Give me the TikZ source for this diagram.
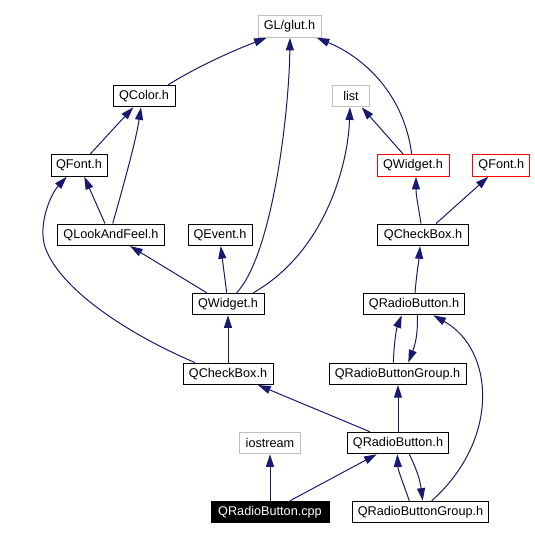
\documentclass[tikz,border=0pt]{standalone}
\usepackage{fontspec}
\setmainfont{Liberation Sans}
\usetikzlibrary{arrows.meta,calc}
\definecolor{navyedge}{RGB}{25,25,112}
\definecolor{greyline}{RGB}{191,191,191}
\tikzset{
  box/.style={draw=black, rectangle, inner sep=0pt, minimum height=21.5*0.75pt,
    minimum width=#1*0.75pt, line width=0.75pt, font=\fontsize{9.5}{11}\selectfont},
  greybox/.style={box=#1, draw=greyline},
  redbox/.style={box=#1, draw=red},
  blackbox/.style={box=#1, fill=black, text=white},
  dep/.style={draw=navyedge, line width=0.75pt, -{Triangle[length=9.5pt,width=6pt]}}
}
\begin{document}
\begin{tikzpicture}[x=0.75pt,y=-0.75pt]
\useasboundingbox[fill=white] (0,0) rectangle (535,540);
% nodes
\node[greybox=63] (glut) at (289.5,26.5) {GL/glut.h};
\node[box=62] (qcolor) at (144,96) {QColor.h};
\node[greybox=37] (list) at (351,96) {list};
\node[box=56] (qfontL) at (79,165.5) {QFont.h};
\node[redbox=72] (qwidgetR) at (413,165.5) {QWidget.h};
\node[redbox=57] (qfontR) at (501.3,165.5) {QFont.h};
\node[box=107] (qlook) at (111,234.8) {QLookAndFeel.h};
\node[box=64] (qevent) at (220,234.8) {QEvent.h};
\node[box=91] (qcheckR) at (423,234.8) {QCheckBox.h};
\node[box=72] (qwidgetM) at (228,304) {QWidget.h};
\node[box=101] (qradioM) at (414,304) {QRadioButton.h};
\node[box=90] (qcheckL) at (228,373.8) {QCheckBox.h};
\node[box=137] (qrbgM) at (397.5,373.8) {QRadioButtonGroup.h};
\node[greybox=61] (iostream) at (270,443) {iostream};
\node[box=101] (qradioL) at (398,443) {QRadioButton.h};
\node[blackbox=118] (cpp) at (270,512) {QRadioButton.cpp};
\node[box=136] (qrbgB) at (420.5,512) {QRadioButtonGroup.h};
% edges
\draw[dep] ($(qcolor.north)+(24.3,0)$) .. controls (200,65) and (235,50) .. ($(glut.south)+(-22.8,0)$);
\draw[dep] ($(qwidgetM.north)+(8.7,0)$) .. controls (272,255) and (289,115) .. ($(glut.south)+(0.5,0)$);
\draw[dep] ($(qwidgetR.north)+(-1.3,0)$) .. controls (405,100) and (370,60) .. ($(glut.south)+(27.2,0)$);
\draw[dep] ($(qwidgetR.north)+(-9.7,0)$) -- ($(list.south)+(10.7,0)$);
\draw[dep] ($(qwidgetM.north)+(25.3,0)$) .. controls (325,252) and (348,165) .. ($(list.south)+(-1,0)$);
\draw[dep] ($(qfontL.north)+(11,0)$) -- ($(qcolor.south)+(-10.7,0)$);
\draw[dep] ($(qlook.north)+(1.7,0)$) .. controls (125,180) and (136,140) .. ($(qcolor.south)+(-3,0)$);
\draw[dep] ($(qlook.north)+(-6,0)$) -- ($(qfontL.south)+(5.3,0)$);
\draw[dep] ($(qwidgetM.north)+(-21.3,0)$) -- ($(qlook.south)+(19,0)$);
\draw[dep] ($(qwidgetM.north)+(-1.3,0)$) -- ($(qevent.south)+(0.7,0)$);
\draw[dep] (qcheckL.north) -- (qwidgetM.south);
\draw[dep] ($(qcheckL.north)+(-33,0)$) .. controls (130,335) and (60,290) .. (45,247)
  .. controls (38,225) and (50,195) .. ($(qfontL.south)+(-12.3,0)$);
\draw[dep] ($(qcheckR.north)+(-2,0)$) .. controls (418,205) and (416,195) .. ($(qwidgetR.south)+(3,0)$);
\draw[dep] ($(qcheckR.north)+(13,0)$) -- ($(qfontR.south)+(-13,0)$);
\draw[dep] ($(qradioM.north)+(1,0)$) .. controls (417,270) and (419,260) .. ($(qcheckR.south)+(-3,0)$);
\draw[dep] ($(qrbgM.north)+(-4.2,0)$) .. controls (394,345) and (396,330) .. ($(qradioM.south)+(-12.3,0)$);
\draw[dep] ($(qradioM.south)+(3.3,0)$) .. controls (418,335) and (415,345) .. ($(qrbgM.north)+(10.8,0)$);
\draw[dep] ($(qrbgB.north)+(11.2,0)$) .. controls (500,440) and (495,350) .. ($(qradioM.south)+(19.3,0)$);
\draw[dep] (qradioL.north) -- (qradioL.north |- qrbgM.south);
\draw[dep] ($(qradioL.north)+(-28,0)$) -- ($(qcheckL.south)+(30,0)$);
\draw[dep] (cpp.north) -- (iostream.south);
\draw[dep] ($(cpp.north)+(20,0)$) -- ($(qradioL.south)+(-21.3,0)$);
\draw[dep] ($(qrbgB.north)+(-11.2,0)$) .. controls (402,480) and (398,470) .. ($(qradioL.south)+(-0.7,0)$);
\draw[dep] ($(qradioL.south)+(11.3,0)$) .. controls (417,470) and (420,480) .. ($(qrbgB.north)+(2.2,0)$);
\end{tikzpicture}
\end{document}
